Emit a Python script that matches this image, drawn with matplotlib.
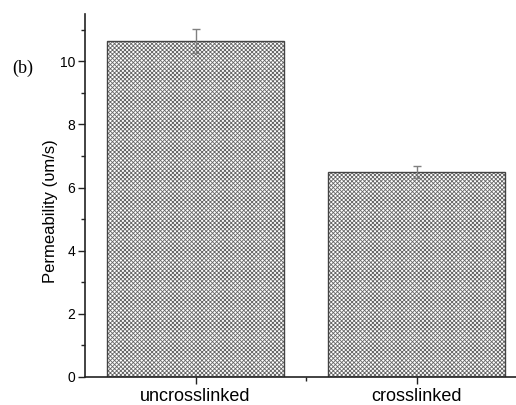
import matplotlib.pyplot as plt
from matplotlib.ticker import MultipleLocator, FixedLocator

# permeability of the two membrane types
samples = ['uncrosslinked', 'crosslinked']
perm = [10.63, 6.49]
perm_err = [0.38, 0.20]

plt.rcParams['hatch.linewidth'] = 0.6

fig = plt.figure(figsize=(5.16, 4.05), dpi=100)
ax = fig.add_axes([85/516, 28/405, 431/516, 363/405])

xpos = [1, 2]
ax.bar(xpos, perm, width=0.8, color='white', edgecolor='#666666',
       hatch='xxxxxxxx', linewidth=0)
ax.bar(xpos, perm, width=0.8, fill=False, edgecolor='#444444', linewidth=1.0)
ax.errorbar(xpos, perm, yerr=perm_err, fmt='none', ecolor='#808080',
            elinewidth=1.0, capsize=3, capthick=1.0)

ax.set_xlim(0.5, 2.45)
ax.set_ylim(0, 11.5)

ax.yaxis.set_major_locator(MultipleLocator(2))
ax.yaxis.set_minor_locator(MultipleLocator(1))
ax.set_xticks(xpos)
ax.set_xticklabels(samples, fontsize=13, family='Liberation Sans')
ax.xaxis.set_minor_locator(FixedLocator([1.5]))

for lab in ax.get_yticklabels():
    lab.set_family('Liberation Sans')
    lab.set_fontsize(10)

ax.tick_params(which='major', direction='out', length=5, width=1, color='#222222', pad=2)
ax.tick_params(which='minor', direction='out', length=3, width=1, color='#222222')
ax.tick_params(axis='x', pad=3)

for side in ['top', 'right']:
    ax.spines[side].set_visible(False)
for side in ['left', 'bottom']:
    ax.spines[side].set_linewidth(1.2)
    ax.spines[side].set_color('#222222')

ax.set_ylabel('Permeability (\u03c5m/s)', fontsize=12, family='Liberation Sans')
ax.yaxis.set_label_coords(-0.063, 0.457)

fig.text(12/516, 1 - 68/405, '(b)', fontsize=13, family='Liberation Serif',
         va='center', ha='left')

fig.savefig('out.png', dpi=100)
